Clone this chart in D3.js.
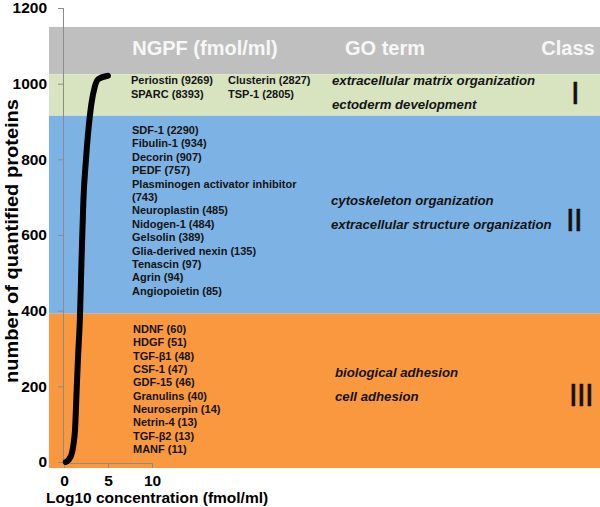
<!DOCTYPE html>
<html><head><meta charset="utf-8">
<script src="https://cdn.jsdelivr.net/npm/d3@7"></script>
<style>
html,body{margin:0;padding:0;background:#fff;}
svg text{font-family:Arial,"Liberation Sans",sans-serif;}
</style>
</head><body>
<svg id="chart" width="600" height="507"></svg>
<script>
// ---- data ----
const curveLogConc = [0.2, 0.5, 0.9, 1.1, 1.25, 1.45, 1.6, 1.8, 2.0, 2.2, 2.5, 2.8, 3.1, 3.5, 3.9, 5.0];
const curveCount   = [0,   5,   24,  50,  84,   197,  280,  374, 540, 689, 800, 885,  945, 992, 1012, 1021];
const yTickValues = [0, 200, 400, 600, 800, 1000, 1200];
const xTickValues = [0, 5, 10];
const bandKeys  = ["header", "I", "II", "III"];
const bandLow   = [1025, 915, 392, -16];
const bandHigh  = [1150, 1025, 915, 392];
const bandColor = ["#bfbfbf", "#d7e4bf", "#7db3e4", "#fa983f"];
const headerLabels = ["NGPF (fmol/ml)", "GO term", "Class"];
const classINgpfCol1 = ["Periostin (9269)", "SPARC (8393)"];
const classINgpfCol2 = ["Clusterin (2827)", "TSP-1 (2805)"];
const classIINgpf = ["SDF-1 (2290)", "Fibulin-1 (934)", "Decorin (907)", "PEDF (757)",
  "Plasminogen activator inhibitor", "(743)", "Neuroplastin (485)", "Nidogen-1 (484)",
  "Gelsolin (389)", "Glia-derived nexin (135)", "Tenascin (97)", "Agrin (94)", "Angiopoietin (85)"];
const classIIINgpf = ["NDNF (60)", "HDGF (51)", "TGF-β1 (48)", "CSF-1 (47)", "GDF-15 (46)",
  "Granulins (40)", "Neuroserpin (14)", "Netrin-4 (13)", "TGF-β2 (13)", "MANF (11)"];
const classIGo = ["extracellular matrix organization", "ectoderm development"];
const classIIGo = ["cytoskeleton organization", "extracellular structure organization"];
const classIIIGo = ["biological adhesion", "cell adhesion"];
const xTitle = "Log10 concentration (fmol/ml)";
const yTitle = "number of quantified proteins";

// ---- scales ----
const svg = d3.select("#chart");
const x = d3.scaleLinear().domain([0, 10]).range([64, 152]);
const y = d3.scaleLinear().domain([0, 1200]).range([462, 8]);
const bandLeft = 49, bandRight = 600;

// bands
svg.append("g").selectAll("rect").data(bandKeys).join("rect")
  .attr("x", bandLeft).attr("width", bandRight - bandLeft)
  .attr("y", (d, i) => y(bandHigh[i]))
  .attr("height", (d, i) => y(bandLow[i]) - y(bandHigh[i]))
  .attr("fill", (d, i) => bandColor[i]);

// axes
const yAxis = svg.append("g").attr("transform", `translate(${x(0)},0)`)
  .call(d3.axisLeft(y).tickValues(yTickValues).tickSize(6).tickPadding(11).tickFormat(d3.format("d")));
const xAxis = svg.append("g").attr("transform", `translate(0,${y(0) + 1})`)
  .call(d3.axisBottom(x).tickValues(xTickValues).tickSize(5).tickPadding(7).tickFormat(d3.format("d")));
[yAxis, xAxis].forEach(a => {
  a.select(".domain").attr("stroke", "#8c8c8c").attr("stroke-width", 1);
  a.selectAll(".tick line").attr("stroke", "#8c8c8c");
  a.selectAll(".tick text").attr("fill", "#000").style("font-size", "15.5px").style("font-weight", "bold");
});
yAxis.select(".domain").attr("d", `M-0.5,${y(1200)}V${y(0) + 1}`);

// curve
const line = d3.line().x(d => x(d[0])).y(d => y(d[1])).curve(d3.curveMonotoneX);
svg.append("path")
  .datum(curveLogConc.map((v, i) => [v, curveCount[i]]))
  .attr("d", line).attr("fill", "none").attr("stroke", "#000")
  .attr("stroke-width", 6).attr("stroke-linecap", "round").attr("stroke-linejoin", "round");

// header labels
const headerX = [205, 385, 568];
svg.append("g").selectAll("text").data(headerLabels).join("text")
  .attr("x", (d, i) => headerX[i]).attr("y", 55).attr("text-anchor", "middle")
  .attr("fill", "#f7f7f7").style("font-size", "20px").style("font-weight", "bold")
  .text(d => d);

function textBlock(lines, x0, y0, dy, size, italic) {
  svg.append("g").selectAll("text").data(lines).join("text")
    .attr("x", x0).attr("y", (d, i) => y0 + i * dy)
    .attr("fill", "#141414").style("font-size", size + "px").style("font-weight", "bold")
    .style("font-style", italic ? "italic" : "normal")
    .text(d => d);
}
textBlock(classINgpfCol1, 131, 84, 13.5, 11, false);
textBlock(classINgpfCol2, 228, 84, 13.5, 11, false);
textBlock(classIINgpf, 132, 134, 13.4, 11, false);
textBlock(classIIINgpf, 133, 333, 13.35, 11, false);
textBlock(classIGo, 332, 85, 23.5, 13.2, true);
textBlock(classIIGo, 331, 205, 24, 13.2, true);
textBlock(classIIIGo, 335, 377, 24, 13.2, true);

// class numerals
const classLabels = ["I", "II", "III"];
const classX = [575, 574, 581];
const classY = [104, 231, 406];
svg.append("g").selectAll("text").data(classLabels).join("text")
  .attr("x", (d, i) => classX[i]).attr("y", (d, i) => classY[i]).attr("text-anchor", "middle")
  .attr("fill", "#111").attr("stroke", "#111").attr("stroke-width", 0.6)
  .style("font-size", "31px").style("letter-spacing", "-0.6px")
  .text(d => d);

// axis titles
svg.append("text").attr("x", 46).attr("y", 503)
  .attr("fill", "#000").style("font-size", "15.5px").style("font-weight", "bold").text(xTitle);
svg.append("text").attr("transform", `translate(18,${241}) rotate(-90)`)
  .attr("text-anchor", "middle").attr("fill", "#000")
  .attr("textLength", 284).attr("lengthAdjust", "spacingAndGlyphs")
  .style("font-size", "17.5px").style("font-weight", "bold").text(yTitle);
</script>
</body></html>
